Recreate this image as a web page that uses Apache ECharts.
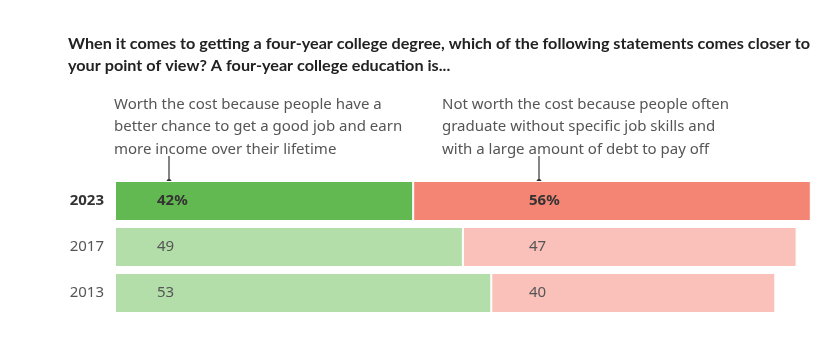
<!DOCTYPE html>
<html>
<head>
<meta charset="utf-8">
<script src="https://cdn.jsdelivr.net/npm/echarts@6/dist/echarts.min.js"></script>
<style>
  html, body { margin: 0; padding: 0; background: #fff; }
  #chart { width: 839px; height: 340px; }
</style>
</head>
<body>
<div id="chart"></div>
<script>
// Survey years, newest first
const years = ['2023', '2017', '2013'];
// Share saying a four-year degree is worth the cost (%)
const worthIt = [42, 49, 53];
// Share saying it is not worth the cost (%)
const notWorthIt = [56, 47, 40];

const titleLines = [
  'When it comes to getting a four-year college degree, which of the following statements comes closer to',
  'your point of view? A four-year college education is...'
];
const worthNote = 'Worth the cost because people have a\nbetter chance to get a good job and earn\nmore income over their lifetime';
const notWorthNote = 'Not worth the cost because people often\ngraduate without specific job skills and\nwith a large amount of debt to pay off';

const greenStrong = '#63b951', greenSoft = '#b3dea9';
const redStrong = '#f48574', redSoft = '#f9c1ba';

const gridLeft = 115, gridWidth = 710;
// Label columns, measured from the left edge of the plot
const worthLabelX = 42, notWorthLabelX = 414;
const worthPointerX = 54, notWorthPointerX = 424;

const titleFont = 'bold 16px Lato';
const titleWidth = 742;   // first title line is squeezed to this width

const chart = echarts.init(document.getElementById('chart'), null, { renderer: 'canvas' });

function labelStyle(i) {
  return i === 0
    ? { fontWeight: 'bold', color: '#333' }
    : { fontWeight: 'normal', color: '#555' };
}

function barItems(values, strong, soft, labelPos) {
  return values.map((v, i) => ({
    value: v,
    itemStyle: { color: i === 0 ? strong : soft },
    label: Object.assign({ formatter: i === 0 ? '{c}%' : '{c}', position: labelPos(i) }, labelStyle(i))
  }));
}

const baseLabel = { show: true, verticalAlign: 'middle', fontFamily: 'Noto Sans', fontSize: 15 };

chart.setOption({
  animation: false,
  grid: { left: gridLeft, width: gridWidth, top: 178, bottom: 24 },
  xAxis: { type: 'value', min: 0, max: 100, show: false },
  yAxis: {
    type: 'category', data: years, inverse: true,
    axisLine: { show: false }, axisTick: { show: false },
    axisLabel: {
      margin: 11,
      formatter: (v, i) => i === 0 ? '{b|' + v + '}' : '{n|' + v + '}',
      rich: {
        b: { fontFamily: 'Noto Sans', fontSize: 15, fontWeight: 'bold', color: '#333' },
        n: { fontFamily: 'Noto Sans', fontSize: 15, color: '#555' }
      }
    }
  },
  series: [
    {
      name: 'Worth the cost', type: 'bar', stack: 'total', barWidth: 40,
      data: barItems(worthIt, greenStrong, greenSoft, () => [worthLabelX, '50%']),
      itemStyle: { borderColor: '#fff', borderWidth: 1 },
      label: baseLabel
    },
    {
      name: 'Not worth the cost', type: 'bar', stack: 'total', barWidth: 40,
      data: barItems(notWorthIt, redStrong, redSoft, () => [0, '50%']),
      itemStyle: { borderColor: '#fff', borderWidth: 1 },
      label: baseLabel
    }
  ]
});

// Second column of labels sits in one vertical line, whatever the bar start
const colX = gridLeft + notWorthLabelX;
const notWorthData = barItems(notWorthIt, redStrong, redSoft, i => {
  const start = chart.convertToPixel({ gridIndex: 0 }, [worthIt[i], i])[0];
  return [colX - start, '50%'];
});

// Title: bold, narrowed horizontally to fit the line
const ctx = document.createElement('canvas').getContext('2d');
ctx.font = titleFont;
const squeeze = titleWidth / ctx.measureText(titleLines[0]).width;

// Notes above the bars, with pointers down to the top row
const topEdge = chart.convertToPixel({ gridIndex: 0 }, [0, 0])[1] - 20;
const noteStyle = { fontFamily: 'Noto Sans', fontSize: 15, fill: '#555', lineHeight: 22.5 };
function pointer(x) {
  return [
    { type: 'line', shape: { x1: x, y1: topEdge - 25, x2: x, y2: topEdge }, style: { stroke: '#333', lineWidth: 1.2 } },
    { type: 'circle', shape: { cx: x, cy: topEdge + 0.5, r: 2.5 }, style: { fill: '#333' } }
  ];
}

chart.setOption({
  series: [{}, { data: notWorthData }],
  graphic: [
    {
      type: 'text', x: 68, y: 33, scaleX: squeeze,
      style: { text: titleLines.join('\n'), font: titleFont, fill: '#222', lineHeight: 22, verticalAlign: 'top' }
    },
    { type: 'text', left: gridLeft - 1, top: 93, style: Object.assign({ text: worthNote }, noteStyle) },
    { type: 'text', left: gridLeft + 327, top: 93, style: Object.assign({ text: notWorthNote }, noteStyle) }
  ].concat(pointer(gridLeft + worthPointerX), pointer(gridLeft + notWorthPointerX))
});
</script>
</body>
</html>
